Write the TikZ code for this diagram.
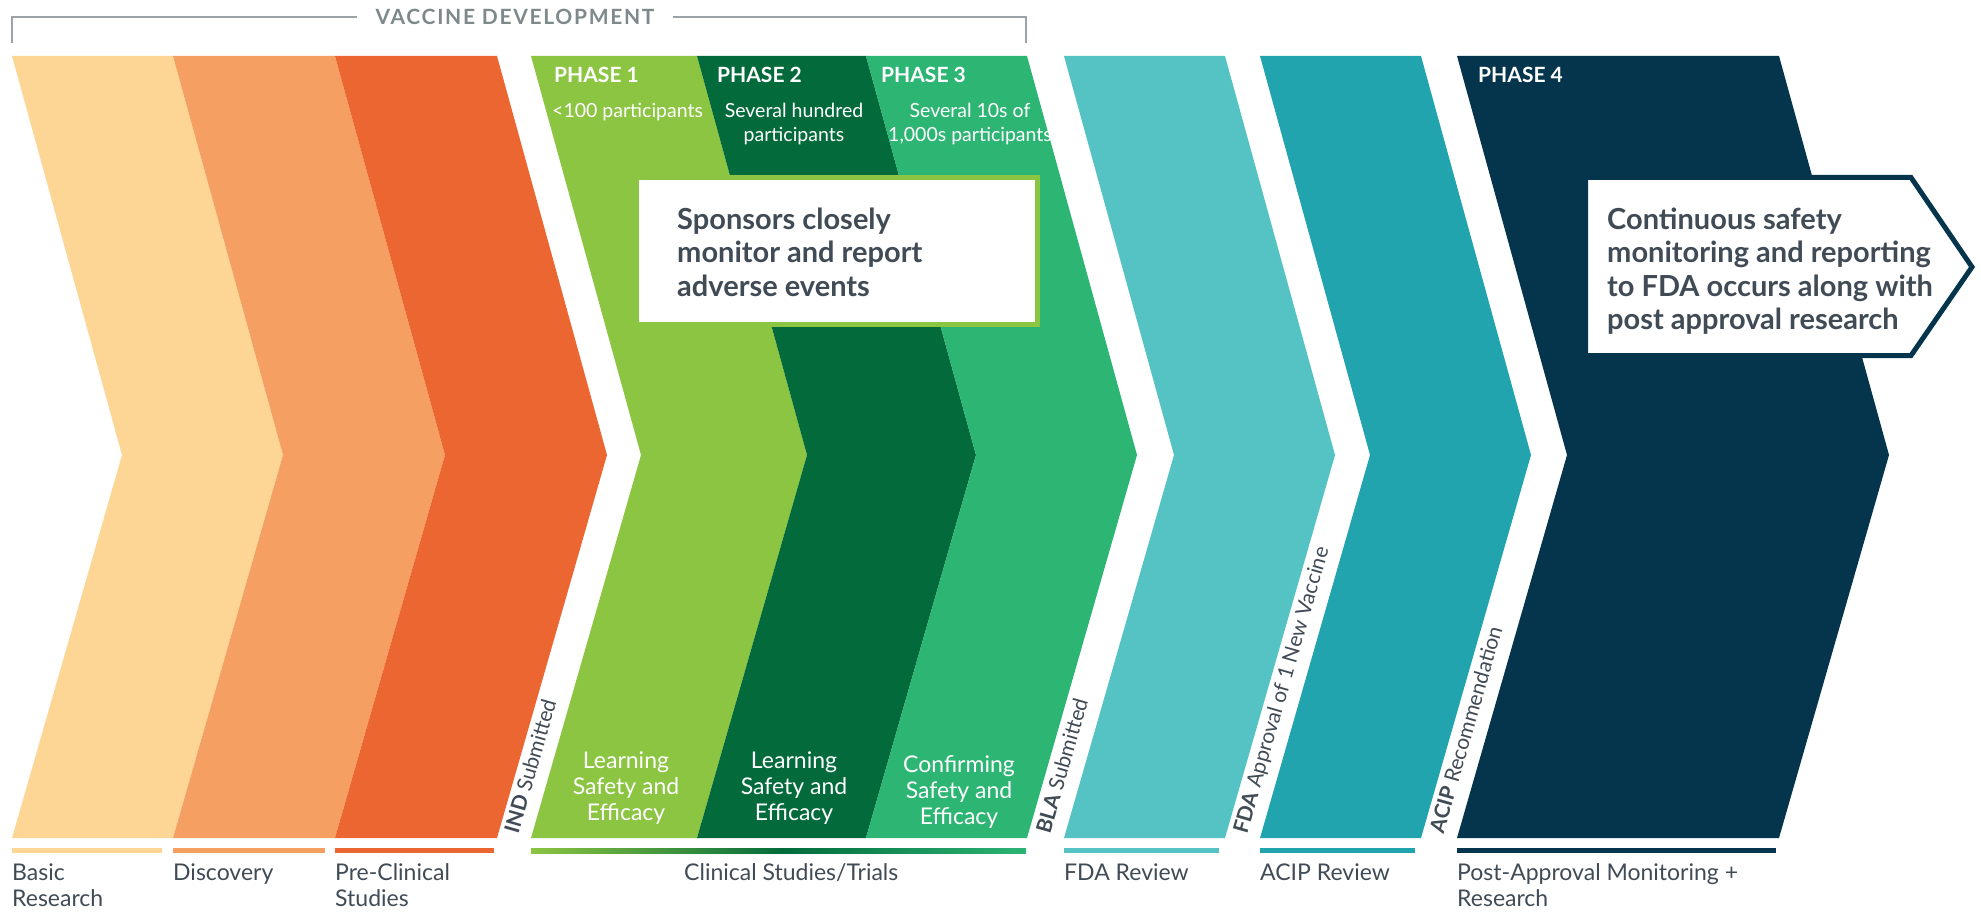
\documentclass[tikz,border=0pt]{standalone}
\usepackage{fontspec}
\setmainfont{Lato}
\newfontfamily\spacedfont[LetterSpace=8]{Lato}
\definecolor{cYel}{HTML}{FDD595}
\definecolor{cOra}{HTML}{F59F63}
\definecolor{cRed}{HTML}{EC6632}
\definecolor{cLG}{HTML}{8CC542}
\definecolor{cDG}{HTML}{036B3B}
\definecolor{cMG}{HTML}{2DB574}
\definecolor{cLT}{HTML}{55C2C3}
\definecolor{cTe}{HTML}{21A4AE}
\definecolor{cNav}{HTML}{04354D}
\definecolor{cTxt}{HTML}{404B56}
\definecolor{cGry}{HTML}{98A4A6}
\definecolor{cGryT}{HTML}{7E898B}
\newcommand{\chevshape}[3]{\fill[#3] (#1,56) -- (#2,56) -- ({#2+110},455) -- (#2,838) -- (#1,838) -- ({#1+110},455) -- cycle;}
\begin{document}
\begin{tikzpicture}[x=1pt,y=-1pt,
  phase/.style={anchor=base west,inner sep=0,text=white,font=\fontsize{21}{24}\selectfont\bfseries},
  part/.style={anchor=base,inner sep=0,text=white,align=center,font=\fontsize{19.5}{24}\selectfont},
  inner/.style={anchor=base,inner sep=0,text=white,align=center,font=\fontsize{23}{26}\selectfont},
  bottomlab/.style={anchor=base west,inner sep=0,text=cTxt,align=left,font=\fontsize{23}{26}\selectfont},
  rotlab/.style={anchor=mid west,inner sep=0,text=cTxt,rotate=74,font=\fontsize{21}{24}\selectfont},
  boxtext/.style={anchor=base west,inner sep=0,text=cTxt,align=left,font=\fontsize{29}{33.5}\selectfont\bfseries}]
\useasboundingbox (0,0) rectangle (1981,912);
% bracket
\node[inner sep=0, inner xsep=18pt, text=cGryT, font=\fontsize{21}{24}\selectfont\spacedfont\bfseries] (vd) at (515,17) {VACCINE DEVELOPMENT};
\draw[cGry, line width=1.4pt] (12,43) -- (12,17) -- (vd.west);
\draw[cGry, line width=1.4pt] (vd.east) -- (1026,17) -- (1026,43);
% chevrons
\chevshape{12}{173}{cYel}
\chevshape{173}{335}{cOra}
\chevshape{335}{497}{cRed}
\chevshape{531}{697}{cLG}
\chevshape{697}{866}{cDG}
\chevshape{866}{1027}{cMG}
\chevshape{1064}{1225}{cLT}
\chevshape{1260}{1421}{cTe}
\chevshape{1457}{1779}{cNav}
% bars
\fill[cYel] (12,848) rectangle (162,853);
\fill[cOra] (173,848) rectangle (325,853);
\fill[cRed] (335,848) rectangle (494,853);
\shade[left color=cLG, right color=cDG] (531,848) rectangle (783,853);
\shade[left color=cDG, right color=cMG] (783,848) rectangle (1026,853);
\fill[cLT] (1064,848) rectangle (1219,853);
\fill[cTe] (1260,848) rectangle (1415,853);
\fill[cNav] (1457,848) rectangle (1776,853);
% phase labels
\node[phase] (p1) at (554,82.5) {PHASE 1};
\node[phase] (p2) at (717,82.5) {PHASE 2};
\node[phase] (p3) at (881,82.5) {PHASE 3};
\node[phase] (p4) at (1478,82.5) {PHASE 4};
\node[part, anchor=base west] (p1t) at (552,118) {<100 participants};
\node[part] (p2t) at (794,142) {Several hundred\\participants};
\node[part] (p3t) at (970,142) {Several 10s of\\1,000s participants};
% sponsors box
\fill[cLG] (634,175) rectangle (1040,327);
\fill[white] (639,180) rectangle (1035,322);
\node[boxtext] (sp) at (677,296) {Sponsors closely\\monitor and report\\adverse events};
% callout
\filldraw[fill=white, draw=cNav, line width=5pt, line join=miter] (1585.5,177.5) -- (1911,177.5) -- (1972,267) -- (1911,355.5) -- (1585.5,355.5) -- cycle;
\node[boxtext] (cs) at (1607,329.5) {Continuous safety\\monitoring and reporting\\to FDA occurs along with\\post approval research};
% inner chevron texts
\node[inner] (l1) at (626,820) {Learning\\Safety and\\Efficacy};
\node[inner] (l2) at (794,820) {Learning\\Safety and\\Efficacy};
\node[inner] (l3) at (959,824) {Confirming\\Safety and\\Efficacy};
% rotated milestone labels
\node[rotlab] (ind) at (516,834) {\textbf{IND} Submitted};
\node[rotlab] (bla) at (1047.5,834) {\textbf{BLA} Submitted};
\node[rotlab] (fda) at (1244.5,834) {\textbf{FDA} Approval of 1 New Vaccine};
\node[rotlab] (acip) at (1441,834) {\textbf{ACIP} Recommendation};
% bottom labels
\node[bottomlab] (b1) at (12,906) {Basic\\Research};
\node[bottomlab] (b2) at (173,880) {Discovery};
\node[bottomlab] (b3) at (335,906) {Pre-Clinical\\Studies};
\node[bottomlab] (b4) at (684,880) {Clinical Studies/Trials};
\node[bottomlab] (b5) at (1064,880) {FDA Review};
\node[bottomlab] (b6) at (1260,880) {ACIP Review};
\node[bottomlab] (b7) at (1457,906) {Post-Approval Monitoring +\\Research};
\end{tikzpicture}
\end{document}
